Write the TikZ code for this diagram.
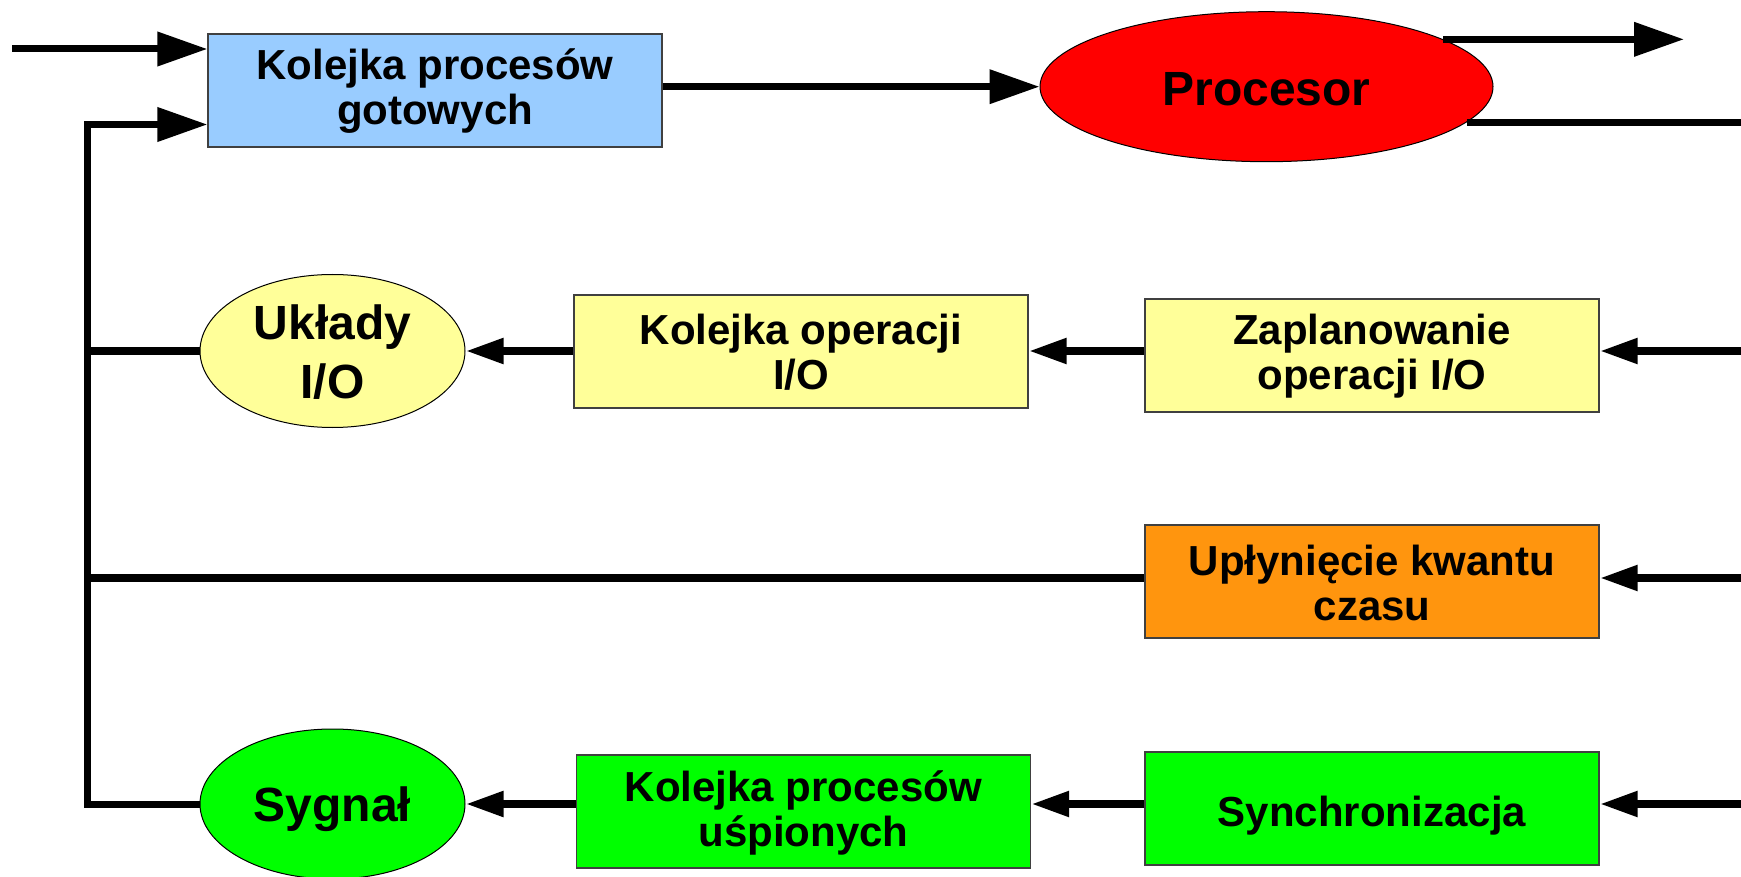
\documentclass[tikz,border=0pt]{standalone}
\usepackage{fontspec}
\setmainfont{Liberation Sans}
\usetikzlibrary{arrows.meta,shapes.geometric}
\definecolor{cblue}{HTML}{99CCFF}
\definecolor{cred}{HTML}{FF0000}
\definecolor{cyel}{HTML}{FFFF99}
\definecolor{corange}{RGB}{255,149,14}
\definecolor{cgreen}{HTML}{00FF00}
\newcommand\lw[2]{\raisebox{-#1}[\height][\depth]{#2}}
\tikzset{
  boxnode/.style={rectangle, draw=black!75, line width=0.6pt, minimum width=227pt, minimum height=56.5pt, inner sep=0pt, align=center, font=\fontsize{21pt}{22.5pt}\selectfont\bfseries},
  ovalnode/.style={ellipse, draw=black, line width=0.5pt, inner sep=0pt, align=center, font=\fontsize{24pt}{29.2pt}\selectfont\bfseries},
  bigline/.style={line width=3.5pt, line join=miter},
  rowline/.style={line width=4pt, line join=miter},
  bigarrow/.style={bigline, -{Triangle[length=25pt,width=16.5pt]}},
  smallarrow/.style={rowline, -{Triangle[length=19pt,width=12pt]}}
}
\begin{document}
\begin{tikzpicture}[x=0.5pt,y=-0.5pt]
\useasboundingbox (0,0) rectangle (1741,877);
% nodes
\node[boxnode, fill=cblue] (blue) at (435,90.5) {\lw{0.5pt}{Kolejka procesów}\\\lw{0.5pt}{gotowych}};
\node[ovalnode, fill=cred, minimum width=226.5pt, minimum height=75pt] (proc) at (1266.5,86.7) {\lw{1.5pt}{Procesor}};
\node[ovalnode, fill=cyel, minimum width=132.5pt, minimum height=76.5pt] (ukl) at (332.5,351) {\lw{0.5pt}{Układy}\\\lw{0.5pt}{I/O}};
\node[boxnode, fill=cyel] (kop) at (801,351.5) {\lw{0.5pt}{Kolejka operacji}\\\lw{0.5pt}{I/O}};
\node[boxnode, fill=cyel] (zap) at (1372,355.5) {\lw{0.5pt}{Zaplanowanie}\\\lw{0.5pt}{operacji I/O}};
\node[boxnode, fill=corange] (upl) at (1372,581.5) {\lw{0.5pt}{Upłynięcie kwantu}\\\lw{0.5pt}{czasu}};
\node[ovalnode, fill=cgreen, minimum width=132.5pt, minimum height=75pt] (syg) at (332.5,804) {\lw{2.5pt}{Sygnał}};
\node[boxnode, fill=cgreen] (kus) at (803.5,811.5) {\lw{0.5pt}{Kolejka procesów}\\\lw{0.5pt}{uśpionych}};
\node[boxnode, fill=cgreen] (syn) at (1372,808.5) {\lw{3.6pt}{Synchronizacja}};
% free ends
\coordinate (in0) at (12,49);
\coordinate (busTop) at (87,124.5);
\coordinate (outA) at (1684,38.5);
\coordinate (outB) at (1741,123.5);
\coordinate (in2) at (1741,351);
\coordinate (in3) at (1741,578);
\coordinate (in4) at (1741,804);
% top connectors
\draw[bigarrow] (in0) -- (in0 -| blue.west);
\draw[bigarrow] (blue.east |- proc.west) -- (proc.west);
\draw[bigarrow] (proc.15.4) -- (proc.15.4 -| outA);
\draw[bigline] (proc.-10.6) -- (proc.-10.6 -| outB);
% return bus
\draw[bigarrow] (syg.west) -- (syg.west -| busTop) -- (busTop) -- (busTop -| blue.west);
\draw[rowline] (ukl.west |- in2) -- (in2 -| busTop);
\draw[rowline] (upl.west |- in3) -- (in3 -| busTop);
% rows
\draw[smallarrow] (in2) -- (in2 -| zap.east);
\draw[smallarrow] (zap.west |- in2) -- (in2 -| kop.east);
\draw[smallarrow] (kop.west |- in2) -- (in2 -| ukl.east);
\draw[smallarrow] (in3) -- (in3 -| upl.east);
\draw[smallarrow] (in4) -- (in4 -| syn.east);
\draw[smallarrow] (syn.west |- in4) -- (in4 -| kus.east);
\draw[smallarrow] (kus.west |- in4) -- (in4 -| syg.east);
\end{tikzpicture}
\end{document}
